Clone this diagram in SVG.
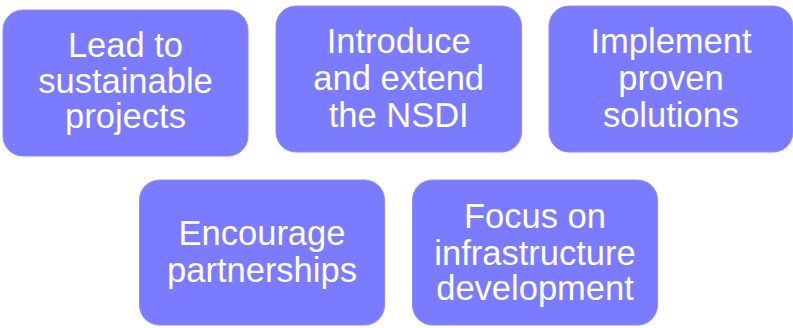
<svg xmlns="http://www.w3.org/2000/svg" width="793" height="328" viewBox="0 0 793 328">
<style>
.box{fill:#7b7bff;stroke:#8c8cff;stroke-width:1}
.t{font-family:"Liberation Sans",Arial,sans-serif;font-size:34.5px;fill:#ffffff;text-anchor:middle}
</style>
<rect width="793" height="328" fill="#ffffff"/>
<g id="connectors"></g>
<g id="node1">
<rect class="box" x="3" y="10" width="245" height="146" rx="20"/>
<text class="t" x="125.5" y="56.7">Lead to</text>
<text class="t" x="125.5" y="92.7">sustainable</text>
<text class="t" x="125.5" y="128.3">projects</text>
</g>
<g id="node2">
<rect class="box" x="276" y="6" width="245.5" height="146" rx="20"/>
<text class="t" x="398.7" y="53.3">Introduce</text>
<text class="t" x="398.7" y="90">and extend</text>
<text class="t" x="398.7" y="126.7">the NSDI</text>
</g>
<g id="node3">
<rect class="box" x="549" y="6" width="244" height="146" rx="20"/>
<text class="t" x="671" y="53.3">Implement</text>
<text class="t" x="671" y="90">proven</text>
<text class="t" x="671" y="126.7">solutions</text>
</g>
<g id="node4">
<rect class="box" x="139.5" y="180" width="245" height="145" rx="20"/>
<text class="t" x="262" y="245">Encourage</text>
<text class="t" x="262" y="281.5">partnerships</text>
</g>
<g id="node5">
<rect class="box" x="412.5" y="180" width="245" height="145" rx="20"/>
<text class="t" x="535" y="228.3">Focus on</text>
<text class="t" x="535" y="264.5">infrastructure</text>
<text class="t" x="535" y="300">development</text>
</g>
</svg>
